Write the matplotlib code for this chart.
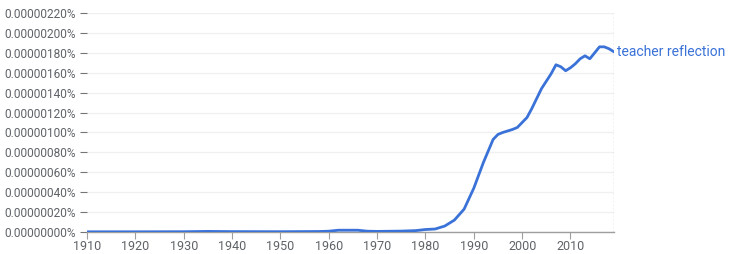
import matplotlib
matplotlib.use("Agg")
import matplotlib.pyplot as plt
import numpy as np
from matplotlib.ticker import FuncFormatter

years = [1910, 1920, 1930, 1935, 1940, 1950, 1958, 1960, 1962, 1966, 1968, 1970,
         1975, 1978, 1980, 1982, 1984, 1986, 1988, 1990, 1992, 1994, 1995, 1996,
         1998, 1999, 2000, 2001, 2002, 2004, 2006, 2007, 2008, 2009, 2010, 2011,
         2012, 2013, 2014, 2015, 2016, 2017, 2018, 2019]
# values in units of 1e-8 percent
values_e8 = [0.2, 0.2, 0.3, 0.6, 0.4, 0.3, 0.5, 0.8, 1.8, 1.8, 0.8, 0.6,
             0.9, 1.4, 2.5, 3.0, 6, 12, 23, 44, 70, 93, 98, 100,
             103, 105, 110, 115, 124, 144, 159, 168, 166, 162, 165, 169,
             174, 177, 174, 180, 186, 186, 184, 181]
series_name = "teacher reflection"
yticks_e8 = [0, 20, 40, 60, 80, 100, 120, 140, 160, 180, 200, 220]
xticks = [1910, 1920, 1930, 1940, 1950, 1960, 1970, 1980, 1990, 2000, 2010]

values = np.array(values_e8) * 1e-8
ytv = np.array(yticks_e8) * 1e-8

plt.rcParams['font.family'] = ['Roboto', 'DejaVu Sans']

fig = plt.figure(figsize=(7.3, 2.54), dpi=100)
ax = fig.add_axes([87/730, 1-232/254, (614-87)/730, (232-13)/254])

line_color = '#3a72d8'
ax.plot(years, values, color=line_color, lw=2.0, solid_capstyle='round', zorder=3)

ax.set_xlim(1910, 2019)
ax.set_ylim(0, 2.2e-6)
ax.set_yticks(ytv)
ax.yaxis.set_major_formatter(FuncFormatter(lambda v, p: f"{v:.8f}%"))
ax.set_xticks(xticks)

for y in ytv:
    ax.axhline(y, color='#f0f0f0', lw=1.0, zorder=0)

for s in ['top', 'left', 'right']:
    ax.spines[s].set_visible(False)
ax.spines['bottom'].set_color('#9e9e9e')
ax.spines['bottom'].set_linewidth(1.0)
ax.axvline(2019, color='#9e9e9e', lw=0.9, ls=(0, (1.5, 1.5)), zorder=1)

ax.tick_params(axis='y', length=5, width=0.8, color='#757575', labelcolor='#5f6368',
               labelsize=8.6, pad=3)
ax.tick_params(axis='x', length=5, width=0.8, color='#9e9e9e', labelcolor='#5f6368',
               labelsize=9, pad=1)

ax.text(2019.6, values[-1], series_name, color=line_color, fontsize=10,
        va='center', ha='left', clip_on=False)

fig.savefig('out.png', dpi=100)
